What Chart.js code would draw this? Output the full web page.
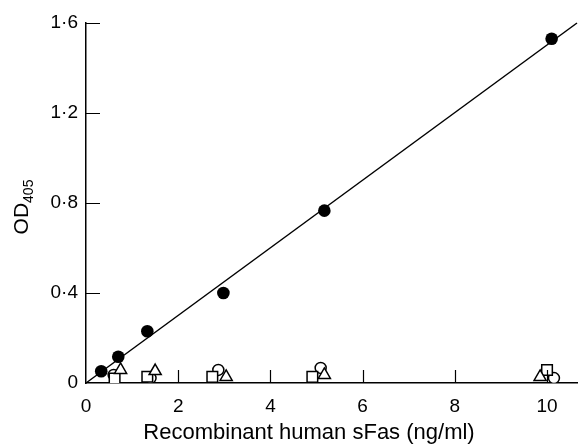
<!DOCTYPE html>
<html>
<head>
<meta charset="utf-8">
<script src="https://cdn.jsdelivr.net/npm/chart.js@4"></script>
<style>
html,body{margin:0;padding:0;background:#fff;}
#wrap{width:578px;height:446px;position:relative;}
</style>
</head>
<body>
<div id="wrap"><canvas id="c" width="578" height="446"></canvas></div>
<script>
// ---- data ----
const sFasX   = [0.33, 0.70, 1.33, 2.98, 5.17, 10.10];
const sFasOD  = [0.052, 0.117, 0.230, 0.400, 0.766, 1.530];
const fitX    = [0, 10.65];
const fitOD   = [0, 1.60];
const circX   = [0.60, 1.40, 2.87, 5.09, 10.15];
const circOD  = [0.036, 0.022, 0.058, 0.067, 0.022];
const sqX     = [0.62, 1.33, 2.74, 4.91, 10.00];
const sqOD    = [0.020, 0.028, 0.027, 0.027, 0.058];
const triX    = [0.75, 1.50, 3.04, 5.17, 9.85];
const triOD   = [0.058, 0.053, 0.027, 0.036, 0.027];
const xTickValues = [0, 2, 4, 6, 8, 10];
const xTickLabels = ['0', '2', '4', '6', '8', '10'];
const yTickValues = [0, 0.4, 0.8, 1.2, 1.6];
const yTickLabels = ['0', '0·4', '0·8', '1·2', '1·6'];
const xTitle = 'Recombinant human sFas (ng/ml)';
const yTitleMain = 'OD';
const yTitleSub = '405';

const pts = (xs, ys) => xs.map((x, i) => ({x: x, y: ys[i]}));
const FONT = "'Liberation Sans', Arial, Helvetica, sans-serif";

const inwardTicks = {
  id: 'inwardTicks',
  afterDraw(chart) {
    const ctx = chart.ctx, xs = chart.scales.x, ys = chart.scales.y;
    const area = chart.chartArea;
    ctx.save();
    ctx.strokeStyle = '#000';
    ctx.lineWidth = 1.2;
    ctx.beginPath();
    xTickValues.forEach(v => {
      if (v === 0) return;
      const px = Math.round(xs.getPixelForValue(v)) + 0.5;
      ctx.moveTo(px, area.bottom);
      ctx.lineTo(px, area.bottom - 13);
    });
    yTickValues.forEach(v => {
      if (v === 0) return;
      const py = Math.round(ys.getPixelForValue(v)) + 0.5;
      ctx.moveTo(area.left, py);
      ctx.lineTo(area.left + 14, py);
    });
    ctx.stroke();
    ctx.fillStyle = '#000';
    // x axis title
    ctx.font = '22px ' + FONT;
    ctx.textAlign = 'center';
    ctx.textBaseline = 'middle';
    ctx.fillText(xTitle, 309, 433);
    // y axis title with subscript
    ctx.textAlign = 'left';
    ctx.translate(28, 207);
    ctx.rotate(-Math.PI / 2);
    ctx.font = '21px ' + FONT;
    ctx.textBaseline = 'alphabetic';
    const wMain = ctx.measureText(yTitleMain).width;
    ctx.font = '14px ' + FONT;
    const wSub = ctx.measureText(yTitleSub).width;
    const start = -(wMain + wSub) / 2;
    ctx.font = '21px ' + FONT;
    ctx.fillText(yTitleMain, start, 0);
    ctx.font = '14px ' + FONT;
    ctx.fillText(yTitleSub, start + wMain, 5);
    ctx.restore();
  }
};

const openStyle = {backgroundColor: '#fff', borderColor: '#000', borderWidth: 1.5, pointBorderWidth: 1.5, showLine: false};

new Chart(document.getElementById('c'), {
  type: 'scatter',
  data: {
    datasets: [
      Object.assign({label: 'circles', data: pts(circX, circOD), pointStyle: 'circle', pointRadius: 5.5, order: 4}, openStyle),
      Object.assign({label: 'squares', data: pts(sqX, sqOD), pointStyle: 'rect', pointRadius: 7.5, order: 3}, openStyle),
      Object.assign({label: 'triangles', data: pts(triX, triOD), pointStyle: 'triangle', pointRadius: 7, order: 2}, openStyle),
      {label: 'fit', data: pts(fitX, fitOD), showLine: true, pointRadius: 0, borderColor: '#000', borderWidth: 1.5, clip: false, order: 5},
      {label: 'sFas', data: pts(sFasX, sFasOD), pointStyle: 'circle', pointRadius: 6.3, backgroundColor: '#000', borderColor: '#000', borderWidth: 0, order: 1}
    ]
  },
  options: {
    responsive: false,
    animation: false,
    events: [],
    layout: {autoPadding: false, padding: {left: 0, right: 1, top: 23, bottom: 0}},
    plugins: {legend: {display: false}, tooltip: {enabled: false}},
    scales: {
      x: {
        type: 'linear', min: 0, max: 10.65,
        afterBuildTicks: s => { s.ticks = xTickValues.map(v => ({value: v})); },
        afterFit: s => { s.height = 63; s.paddingLeft = 0; s.paddingRight = 0; },
        grid: {display: true, drawOnChartArea: false, drawTicks: false},
        border: {display: true, color: '#000', width: 1.5},
        ticks: {
          padding: 12, color: '#000', font: {family: FONT, size: 19},
          maxRotation: 0, autoSkip: false,
          callback: (v) => xTickLabels[xTickValues.indexOf(v)]
        }
      },
      y: {
        type: 'linear', min: 0, max: 1.6,
        afterBuildTicks: s => { s.ticks = yTickValues.map(v => ({value: v})); },
        afterFit: s => { s.width = 86; s.paddingTop = 0; s.paddingBottom = 0; },
        grid: {display: true, drawOnChartArea: false, drawTicks: false},
        border: {display: true, color: '#000', width: 1.5},
        ticks: {
          padding: 8, color: '#000', font: {family: FONT, size: 19},
          autoSkip: false,
          callback: (v) => yTickLabels[yTickValues.indexOf(v)]
        }
      }
    }
  },
  plugins: [inwardTicks]
});
</script>
</body>
</html>
